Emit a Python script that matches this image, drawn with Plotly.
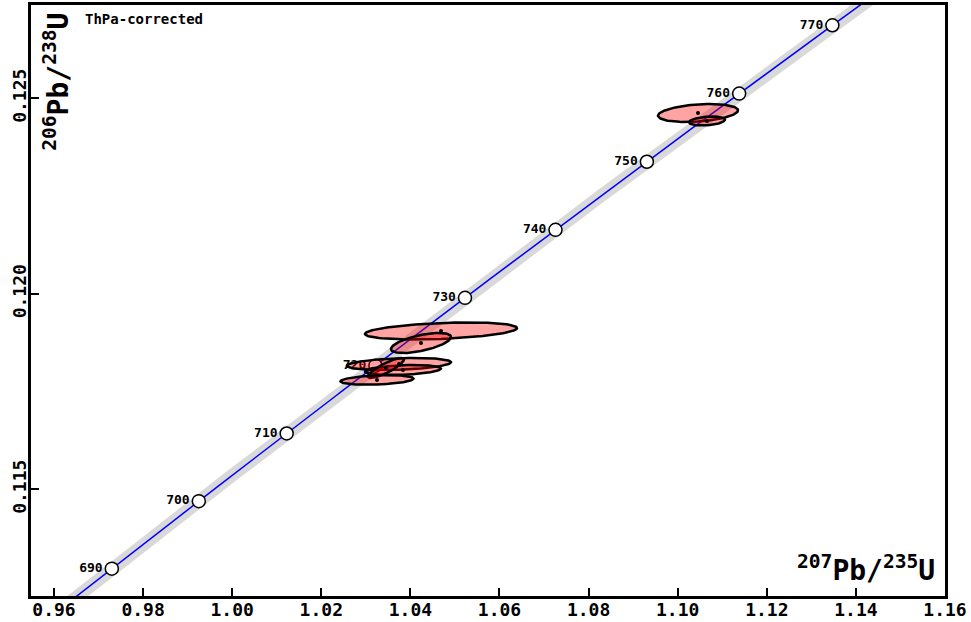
import numpy as np
import plotly.graph_objects as go

# Decay constants (1/yr)
LAMBDA_238 = 1.55125e-10
LAMBDA_235 = 9.8485e-10

# Concordia age markers (Ma)
ages = [690, 700, 710, 720, 730, 740, 750, 760, 770]

# Measured analyses: 207Pb/235U, 206Pb/238U, 1-sigma errors and error correlation
x_vals = [1.04687, 1.04238, 1.03744, 1.03834, 1.03452, 1.03250, 1.10456, 1.10658]
sx_vals = [0.00697, 0.00275, 0.00477, 0.00348, 0.00165, 0.00335, 0.00367, 0.00165]
y_vals = [0.119054, 0.118747, 0.118210, 0.118056, 0.118107, 0.117801, 0.124629, 0.124425]
sy_vals = [8.9e-5, 1.05e-4, 6.3e-5, 5.2e-5, 1.05e-4, 5.0e-5, 9.4e-5, 4.7e-5]
rho_vals = [0.35, 0.6, 0.3, 0.3, 0.85, 0.3, 0.3, 0.3]

FONT = "DejaVu Sans Mono"
K95 = np.sqrt(5.991)  # 95% confidence, 2 degrees of freedom


def concordia(t_ma):
    t = np.asarray(t_ma, dtype=float) * 1e6
    return np.exp(LAMBDA_235 * t) - 1.0, np.exp(LAMBDA_238 * t) - 1.0


def error_ellipse(x, sx, y, sy, rho, n=120):
    cov = np.array([[sx * sx, rho * sx * sy], [rho * sx * sy, sy * sy]])
    vals, vecs = np.linalg.eigh(cov)
    th = np.linspace(0, 2 * np.pi, n)
    circ = np.vstack([np.cos(th), np.sin(th)])
    pts = vecs @ (np.sqrt(vals)[:, None] * circ) * K95
    return x + pts[0], y + pts[1]


fig = go.Figure()

# Concordia curve with its uncertainty band
tc = np.linspace(670, 790, 400)
cx, cy = concordia(tc)
fig.add_trace(go.Scatter(x=cx, y=cy, mode="lines",
                         line=dict(color="#d9d9d9", width=13),
                         hoverinfo="skip", showlegend=False))
fig.add_trace(go.Scatter(x=cx, y=cy, mode="lines",
                         line=dict(color="#0000ff", width=1.5),
                         hoverinfo="skip", showlegend=False))

# Age ticks along the concordia
ax_, ay_ = concordia(ages)
fig.add_trace(go.Scatter(
    x=ax_, y=ay_, mode="markers+text",
    marker=dict(size=13, color="white", line=dict(color="black", width=1.5)),
    text=[str(a) for a in ages], textposition="middle left",
    textfont=dict(family=FONT, size=13, color="black", weight="bold"),
    showlegend=False))

# Error ellipses
for x, sx, y, sy, r in zip(x_vals, sx_vals, y_vals, sy_vals, rho_vals):
    ex, ey = error_ellipse(x, sx, y, sy, r)
    fig.add_trace(go.Scatter(
        x=ex, y=ey, mode="lines", fill="toself",
        fillcolor="rgba(255,0,0,0.36)",
        line=dict(color="black", width=2.5),
        hoverinfo="skip", showlegend=False))

fig.add_trace(go.Scatter(x=x_vals, y=y_vals, mode="markers",
                         marker=dict(size=4, color="black"),
                         showlegend=False))

axis_common = dict(
    showgrid=False, zeroline=False, showline=True, mirror=True,
    linecolor="black", linewidth=3, ticks="inside", ticklen=8,
    tickwidth=2, tickcolor="black", ticklabelstandoff=-5,
    tickfont=dict(family=FONT, size=18, color="black", weight="bold"),
)

fig.update_layout(
    width=971, height=622,
    margin=dict(l=31, r=26, t=5, b=26),
    paper_bgcolor="white", plot_bgcolor="white",
    xaxis=dict(range=[0.95484, 1.16], tickvals=[0.96, 0.98, 1.00, 1.02, 1.04, 1.06,
                                                 1.08, 1.10, 1.12, 1.14, 1.16],
               tickformat=".2f", automargin=False, **axis_common),
    yaxis=dict(range=[0.112276, 0.127391], tickvals=[0.115, 0.120, 0.125],
               tickformat=".3f", tickangle=-90, automargin=False, **axis_common),
    annotations=[
        dict(text="<sup>207</sup>Pb/<sup>235</sup>U", xref="paper", yref="paper",
             x=0.991, y=0.012, xanchor="right", yanchor="bottom", showarrow=False,
             font=dict(family=FONT, size=28, color="black", weight="bold")),
        dict(text="<sup>206</sup>Pb/<sup>238</sup>U", xref="paper", yref="paper",
             x=0.0284, y=0.870, xanchor="center", yanchor="middle", textangle=-90,
             showarrow=False,
             font=dict(family=FONT, size=28, color="black", weight="bold")),
        dict(text="ThPa-corrected", xref="paper", yref="paper",
             x=0.0569, y=0.976, xanchor="left", yanchor="middle", showarrow=False,
             font=dict(family=FONT, size=14, color="black", weight="bold")),
    ],
)

fig.write_html("out.html")
